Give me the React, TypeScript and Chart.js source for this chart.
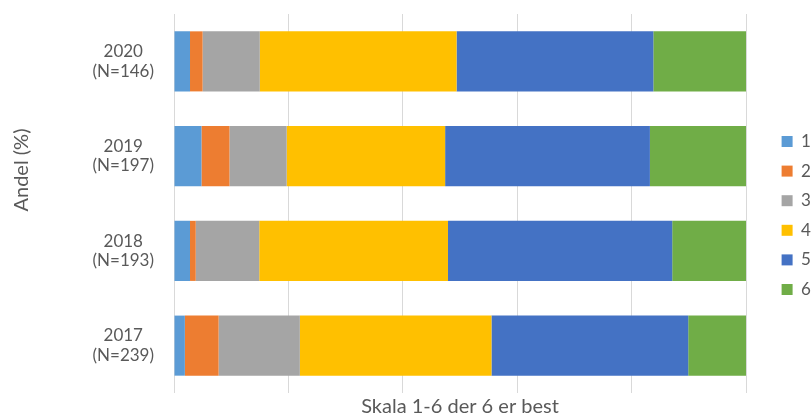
import React, { useEffect, useRef } from "react";
import { Chart, registerables } from "chart.js";

Chart.register(...registerables);

const categories: string[][] = [
  ["2020", "(N=146)"],
  ["2019", "(N=197)"],
  ["2018", "(N=193)"],
  ["2017", "(N=239)"],
];

const seriesLabels = ["1", "2", "3", "4", "5", "6"];
const score1 = [2.8, 4.8, 2.8, 1.9];
const score2 = [2.2, 4.9, 1.0, 5.9];
const score3 = [10.0, 10.0, 11.1, 14.2];
const score4 = [34.4, 27.7, 33.0, 33.5];
const score5 = [34.4, 35.8, 39.2, 34.4];
const score6 = [16.2, 16.8, 12.9, 10.1];
const seriesValues = [score1, score2, score3, score4, score5, score6];
const seriesColors = ["#5B9BD5", "#ED7D31", "#A5A5A5", "#FFC000", "#4472C4", "#70AD47"];

const xTitle = "Skala 1-6 der 6 er best";
const yTitle = "Andel (%)";

const FONT = "Lato, 'Open Sans', sans-serif";
const TEXT = "#595959";

const yTitlePlugin = {
  id: "yTitlePlugin",
  afterDraw(chart: any) {
    const ctx = chart.ctx;
    ctx.save();
    ctx.translate(22, 170);
    ctx.rotate(-Math.PI / 2);
    ctx.font = `20px ${FONT}`;
    ctx.fillStyle = TEXT;
    ctx.textAlign = "center";
    ctx.textBaseline = "middle";
    ctx.fillText(yTitle, 0, 0);
    ctx.restore();
  },
};

export default function App() {
  const ref = useRef<HTMLCanvasElement | null>(null);
  useEffect(() => {
    if (!ref.current) return;
    const chart = new Chart(ref.current, {
      type: "bar",
      data: {
        labels: categories,
        datasets: seriesLabels.map((lab, i) => ({
          label: lab,
          data: seriesValues[i],
          backgroundColor: seriesColors[i],
          borderWidth: 0,
          categoryPercentage: 1,
          barPercentage: 0.634,
        })),
      },
      options: {
        indexAxis: "y",
        animation: false,
        responsive: true,
        maintainAspectRatio: false,
        layout: { padding: { left: 8, top: 14, right: 0, bottom: 0 } },
        plugins: {
          tooltip: { enabled: false },
          legend: {
            position: "right",
            maxWidth: 43,
            labels: {
              boxWidth: 11,
              boxHeight: 11,
              padding: 12.6,
              color: TEXT,
              font: { family: FONT, size: 17 },
            },
          },
        },
        scales: {
          x: {
            stacked: true,
            min: 0,
            max: 100,
            ticks: { display: false, stepSize: 20 },
            grid: { color: "#D9D9D9", lineWidth: 1, drawTicks: false },
            border: { display: false },
            title: {
              display: true,
              text: xTitle,
              color: TEXT,
              padding: 0,
              font: { family: FONT, size: 20, lineHeight: 1 },
            },
            afterFit: (scale: any) => {
              scale.height = 24;
              scale.paddingLeft = 0;
              scale.paddingRight = 0;
            },
          },
          y: {
            stacked: true,
            ticks: {
              color: TEXT,
              crossAlign: "center",
              padding: 20,
              font: { family: FONT, size: 17, lineHeight: 1.15 },
            },
            grid: { display: false, drawTicks: false },
            border: { display: false },
            afterFit: (scale: any) => {
              scale.width = 166;
              scale.paddingTop = 0;
              scale.paddingBottom = 0;
            },
          },
          spacer: {
            type: "linear",
            position: "right",
            display: true,
            ticks: { display: false },
            grid: { display: false, drawTicks: false },
            border: { display: false },
            afterFit: (scale: any) => {
              scale.width = 23;
              scale.paddingTop = 0;
              scale.paddingBottom = 0;
            },
          },
        },
      } as any,
      plugins: [yTitlePlugin],
    });
    return () => chart.destroy();
  }, []);
  return (
    <div style={{ position: "fixed", left: 0, top: 0, width: 812, height: 417, background: "#fff" }}>
      <canvas ref={ref} />
    </div>
  );
}
